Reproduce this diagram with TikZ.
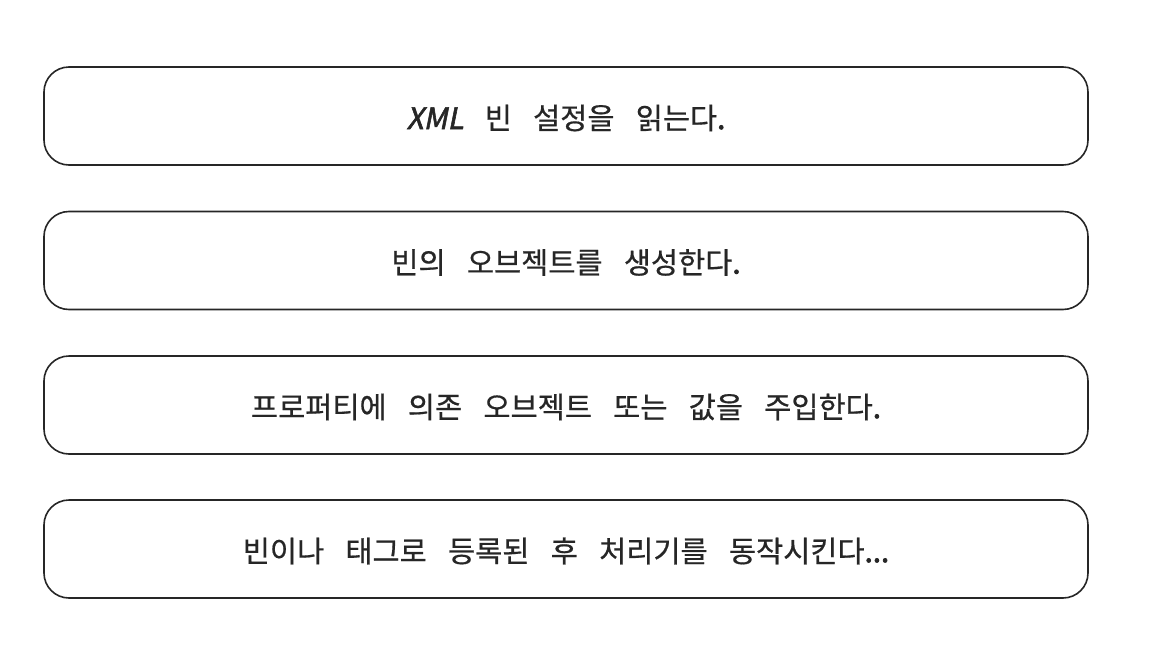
\documentclass[tikz,border=0pt]{standalone}
\usepackage{fontspec}
\newfontfamily\kr[FakeBold=0.6]{Noto Sans CJK KR}
\newfontfamily\krb[FakeBold=2.5]{Noto Sans CJK KR}
\newfontfamily\krx[FakeBold=2,FakeSlant=0.2]{Noto Sans CJK KR}
\newcommand{\ws}{\hspace{0.72em}}
\begin{document}
\begin{tikzpicture}[x=1pt,y=-1pt,
  stepbox/.style={draw=black!85,line width=1.6pt,rounded corners=25pt,minimum width=1044pt,minimum height=98pt,inner sep=0pt},
  lbl/.style={font=\kr\fontsize{29.5}{34}\selectfont,text=black!85}]
\useasboundingbox (0,0) rectangle (1160,664);
\node[stepbox] (b1) at (566,116) {};
\node[stepbox] (b2) at (566,260.5) {};
\node[stepbox] (b3) at (566,405) {};
\node[stepbox] (b4) at (566,549) {};
\node[lbl] (t1) at ([yshift=-2pt]b1.center) {{\krx XML}\ws 빈\ws 설정을\ws 읽는다{\krb .}};
\node[lbl] (t2) at ([yshift=-2pt]b2.center) {빈의\ws 오브젝트를\ws 생성한다{\krb .}};
\node[lbl] (t3) at ([yshift=-2pt]b3.center) {프로퍼티에\ws 의존\ws 오브젝트\ws 또는\ws 값을\ws 주입한다{\krb .}};
\node[lbl] (t4) at ([yshift=-2pt]b4.center) {빈이나\ws 태그로\ws 등록된\ws 후\ws 처리기를\ws 동작시킨다{\krb ...}};
\end{tikzpicture}
\end{document}
